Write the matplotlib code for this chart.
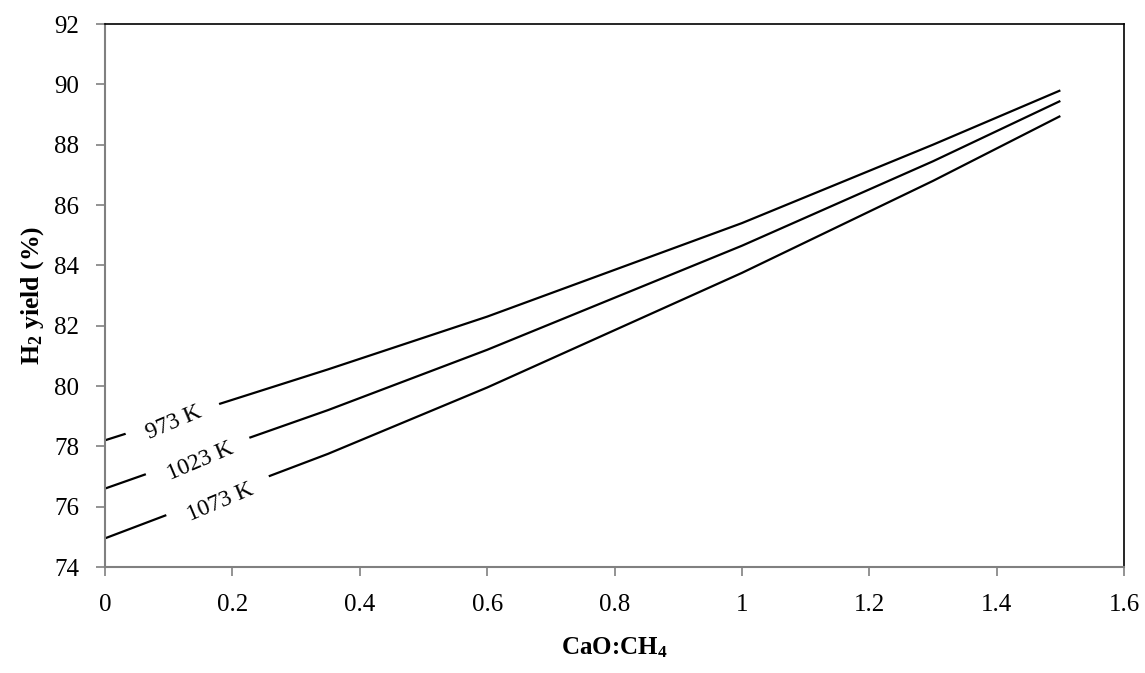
import matplotlib
matplotlib.use("Agg")
import matplotlib.pyplot as plt

# Datos
razon_cao = [0, 0.35, 0.6, 1.0, 1.3, 1.5]
h2_973 = [78.2, 80.55, 82.3, 85.4, 88.0, 89.8]
h2_1023 = [76.6, 79.2, 81.2, 84.65, 87.45, 89.45]
h2_1073 = [74.95, 77.75, 79.95, 83.75, 86.8, 88.95]

etiquetas = ["973 K", "1023 K", "1073 K"]
x_ticks = [0, 0.2, 0.4, 0.6, 0.8, 1, 1.2, 1.4, 1.6]
x_tick_labels = ["0", "0.2", "0.4", "0.6", "0.8", "1", "1.2", "1.4", "1.6"]
y_ticks = [74, 76, 78, 80, 82, 84, 86, 88, 90, 92]

plt.rcParams['font.family'] = ['Liberation Serif', 'DejaVu Serif']
plt.rcParams['mathtext.fontset'] = 'custom'
plt.rcParams['mathtext.rm'] = 'Liberation Serif:bold'
plt.rcParams['mathtext.it'] = 'Liberation Serif:bold'
plt.rcParams['mathtext.bf'] = 'Liberation Serif:bold'

fig = plt.figure(figsize=(11.45, 6.73), dpi=100)
ax = fig.add_axes([0.0917, 0.1575, 0.890, 0.8068])

for serie in [h2_973, h2_1023, h2_1073]:
    ax.plot(razon_cao, serie, color='black', lw=1.6, solid_capstyle='butt')

# etiquetas sobre las curvas; los espacios y el fondo blanco cortan la linea
pos_etiquetas = [(0.108, 78.8), (0.149, 77.5), (0.181, 76.15)]
for texto, (xt, yt) in zip(etiquetas, pos_etiquetas):
    ax.text(xt, yt, "   " + texto + "   ", rotation=23, rotation_mode='anchor',
            ha='center', va='center', fontsize=17,
            bbox=dict(facecolor='white', edgecolor='none', pad=1.5))

ax.set_xlim(0, 1.6)
ax.set_ylim(74, 92)
ax.set_xticks(x_ticks)
ax.set_xticklabels(x_tick_labels)
ax.set_yticks(y_ticks)
ax.tick_params(axis='both', direction='out', length=6.5, width=1.2, color='#808080', labelsize=18)
ax.tick_params(axis='x', pad=13)
ax.tick_params(axis='y', pad=12)

ax.spines['left'].set_color('#808080')
ax.spines['bottom'].set_color('#808080')
ax.spines['left'].set_linewidth(1.5)
ax.spines['bottom'].set_linewidth(1.5)
ax.spines['top'].set_linewidth(1.2)
ax.spines['right'].set_linewidth(1.2)

ax.set_xlabel(r'CaO:CH$_4$', fontsize=18, fontweight='bold', labelpad=14)
ax.set_ylabel(r'H$_2$ yield (%)', fontsize=18.5, fontweight='bold', labelpad=6)

fig.savefig("out.png", dpi=100)
